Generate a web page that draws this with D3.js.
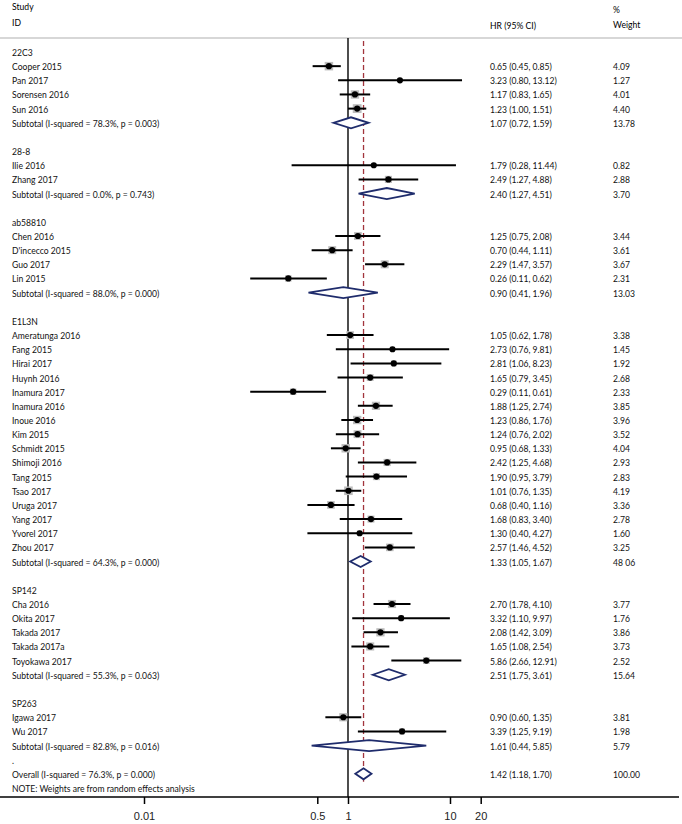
<!DOCTYPE html>
<html>
<head>
<meta charset="utf-8">
<script src="https://cdn.jsdelivr.net/npm/d3@7"></script>
<style>
  html, body { margin: 0; padding: 0; background: #fff; }
  svg { display: block; }
</style>
</head>
<body>
<svg id="chart" width="682" height="824"></svg>
<script>
// ---------- data ----------
const rowLabels = [
  "22C3", "Cooper 2015", "Pan 2017", "Sorensen 2016", "Sun 2016", "Subtotal (I-squared = 78.3%, p = 0.003)", "",
  "28-8", "Ilie 2016", "Zhang 2017", "Subtotal (I-squared = 0.0%, p = 0.743)", "",
  "ab58810", "Chen 2016", "D'incecco 2015", "Guo 2017", "Lin 2015", "Subtotal (I-squared = 88.0%, p = 0.000)", "",
  "E1L3N", "Ameratunga 2016", "Fang 2015", "Hirai 2017", "Huynh 2016", "Inamura 2017", "Inamura 2016", "Inoue 2016",
  "Kim 2015", "Schmidt 2015", "Shimoji 2016", "Tang 2015", "Tsao 2017", "Uruga 2017", "Yang 2017", "Yvorel 2017",
  "Zhou 2017", "Subtotal (I-squared = 64.3%, p = 0.000)", "",
  "SP142", "Cha 2016", "Okita 2017", "Takada 2017", "Takada 2017a", "Toyokawa 2017", "Subtotal (I-squared = 55.3%, p = 0.063)", "",
  "SP263", "Igawa 2017", "Wu 2017", "Subtotal (I-squared = 82.8%, p = 0.016)", ".",
  "Overall (I-squared = 76.3%, p = 0.000)", "NOTE: Weights are from random effects analysis"
];
// g = group header, s = study, d = pooled diamond, b = blank, n = note
const rowKinds = [
  "g","s","s","s","s","d","b",
  "g","s","s","d","b",
  "g","s","s","s","s","d","b",
  "g","s","s","s","s","s","s","s","s","s","s","s","s","s","s","s","s","d","b",
  "g","s","s","s","s","s","d","b",
  "g","s","s","d","b",
  "d","n"
];
const hrValues = [
  null, 0.65, 3.23, 1.17, 1.23, 1.07, null,
  null, 1.79, 2.49, 2.40, null,
  null, 1.25, 0.70, 2.29, 0.26, 0.90, null,
  null, 1.05, 2.73, 2.81, 1.65, 0.29, 1.88, 1.23, 1.24, 0.95, 2.42, 1.90, 1.01, 0.68, 1.68, 1.30, 2.57, 1.33, null,
  null, 2.70, 3.32, 2.08, 1.65, 5.86, 2.51, null,
  null, 0.90, 3.39, 1.61, null,
  1.42, null
];
const ciLow = [
  null, 0.45, 0.80, 0.83, 1.00, 0.72, null,
  null, 0.28, 1.27, 1.27, null,
  null, 0.75, 0.44, 1.47, 0.11, 0.41, null,
  null, 0.62, 0.76, 1.06, 0.79, 0.11, 1.25, 0.86, 0.76, 0.68, 1.25, 0.95, 0.76, 0.40, 0.83, 0.40, 1.46, 1.05, null,
  null, 1.78, 1.10, 1.42, 1.08, 2.66, 1.75, null,
  null, 0.60, 1.25, 0.44, null,
  1.18, null
];
const ciHigh = [
  null, 0.85, 13.12, 1.65, 1.51, 1.59, null,
  null, 11.44, 4.88, 4.51, null,
  null, 2.08, 1.11, 3.57, 0.62, 1.96, null,
  null, 1.78, 9.81, 8.23, 3.45, 0.61, 2.74, 1.76, 2.02, 1.33, 4.68, 3.79, 1.35, 1.16, 3.40, 4.27, 4.52, 1.67, null,
  null, 4.10, 9.97, 3.09, 2.54, 12.91, 3.61, null,
  null, 1.35, 9.19, 5.85, null,
  1.70, null
];
const weightLabels = [
  "", "4.09", "1.27", "4.01", "4.40", "13.78", "",
  "", "0.82", "2.88", "3.70", "",
  "", "3.44", "3.61", "3.67", "2.31", "13.03", "",
  "", "3.38", "1.45", "1.92", "2.68", "2.33", "3.85", "3.96", "3.52", "4.04", "2.93", "2.83", "4.19", "3.36", "2.78", "1.60", "3.25", "48 06", "",
  "", "3.77", "1.76", "3.86", "3.73", "2.52", "15.64", "",
  "", "3.81", "1.98", "5.79", "",
  "100.00", ""
];
const overallHR = 1.42;
const tickValues = [0.01, 0.5, 1, 10, 20];
const tickLabels = ["0.01", "0.5", "1", "10", "20"];
const headerLeft = ["Study", "ID"];
const headerHR = "HR (95% CI)";
const headerWeight = ["%", "Weight"];

// ---------- layout ----------
const svg = d3.select("#chart");
const LABEL_FONT = "Lato, 'Open Sans', sans-serif";
const FS = 8.6;
const x = d3.scaleLog().domain([0.01, 20]).range([144, 480.7]);
const y = d3.scaleLinear().domain([0, rowLabels.length - 1]).range([53, 789]);
const axisY = 797;
const headLineY = 38;
const xLabel = 12, xHR = 490, xW = 613;
const fmt = d3.format(".2f");

// header
svg.append("text").attr("x", xLabel).attr("y", 10).attr("font-family", LABEL_FONT).attr("font-size", FS).text(headerLeft[0]);
svg.append("text").attr("x", xLabel).attr("y", 26).attr("font-family", LABEL_FONT).attr("font-size", FS).text(headerLeft[1]);
svg.append("text").attr("x", xHR).attr("y", 29).attr("font-family", LABEL_FONT).attr("font-size", FS).text(headerHR);
svg.append("text").attr("x", xW).attr("y", 13).attr("font-family", LABEL_FONT).attr("font-size", FS).text(headerWeight[0]);
svg.append("text").attr("x", xW).attr("y", 28).attr("font-family", LABEL_FONT).attr("font-size", FS).text(headerWeight[1]);
svg.append("line").attr("x1", 0).attr("x2", 682).attr("y1", headLineY).attr("y2", headLineY)
  .attr("stroke", "#b0b0b0").attr("stroke-width", 1.2);

// null line at 1
svg.append("line").attr("x1", x(1)).attr("x2", x(1)).attr("y1", headLineY).attr("y2", axisY)
  .attr("stroke", "#000").attr("stroke-width", 1.4);

// overall dashed line
svg.append("line").attr("x1", x(overallHR)).attr("x2", x(overallHR))
  .attr("y1", headLineY + 3).attr("y2", y(rowLabels.length - 2) + 7)
  .attr("stroke", "#a2343c").attr("stroke-width", 1.3).attr("stroke-dasharray", "5,3");

const rows = rowLabels.map((label, i) => ({
  i, label, kind: rowKinds[i], hr: hrValues[i], lo: ciLow[i], hi: ciHigh[i], w: weightLabels[i]
}));

// labels
svg.append("g").selectAll("text").data(rows.filter(r => r.label !== "")).join("text")
  .attr("x", xLabel).attr("y", r => y(r.i) + 3)
  .attr("font-family", LABEL_FONT).attr("font-size", FS).attr("fill", "#111")
  .text(r => r.label);

// HR text & weights
const est = rows.filter(r => r.hr != null);
svg.append("g").selectAll("text").data(est).join("text")
  .attr("x", xHR).attr("y", r => y(r.i) + 3)
  .attr("font-family", LABEL_FONT).attr("font-size", FS).attr("fill", "#111")
  .text(r => `${fmt(r.hr)} (${fmt(r.lo)}, ${fmt(r.hi)})`);
svg.append("g").selectAll("text").data(est).join("text")
  .attr("x", xW).attr("y", r => y(r.i) + 3)
  .attr("font-family", LABEL_FONT).attr("font-size", FS).attr("fill", "#111")
  .text(r => r.w);

// studies
const studies = rows.filter(r => r.kind === "s");
const sg = svg.append("g");
sg.selectAll("rect.wt").data(studies).join("rect").attr("class", "wt")
  .attr("x", r => x(r.hr) - 2.1 * Math.sqrt(+r.w))
  .attr("y", r => y(r.i) - 1 - 2.1 * Math.sqrt(+r.w))
  .attr("width", r => 4.2 * Math.sqrt(+r.w))
  .attr("height", r => 4.2 * Math.sqrt(+r.w))
  .attr("fill", "#bdbdbd");
sg.selectAll("line.ci").data(studies).join("line").attr("class", "ci")
  .attr("x1", r => x(r.lo)).attr("x2", r => x(r.hi))
  .attr("y1", r => y(r.i) - 1).attr("y2", r => y(r.i) - 1)
  .attr("stroke", "#000").attr("stroke-width", 2);
sg.selectAll("circle.pt").data(studies).join("circle").attr("class", "pt")
  .attr("cx", r => x(r.hr)).attr("cy", r => y(r.i) - 1).attr("r", 3.1)
  .attr("fill", "#000");

// pooled diamonds
const pooled = rows.filter(r => r.kind === "d");
svg.append("g").selectAll("path").data(pooled).join("path")
  .attr("d", r => {
    const cy = y(r.i) - 1, h = 5.5;
    return `M${x(r.lo)},${cy}L${x(r.hr)},${cy - h}L${x(r.hi)},${cy}L${x(r.hr)},${cy + h}Z`;
  })
  .attr("fill", "#fff").attr("stroke", "#1f2c6c").attr("stroke-width", 1.8);

// axis
svg.append("line").attr("x1", 0).attr("x2", 679).attr("y1", axisY).attr("y2", axisY)
  .attr("stroke", "#000").attr("stroke-width", 1.5);
const axis = d3.axisBottom(x).tickValues(tickValues)
  .tickFormat((d, i) => tickLabels[i]).tickSize(7).tickPadding(8);
const ag = svg.append("g").attr("transform", `translate(0,${axisY})`).call(axis);
ag.select(".domain").remove();
ag.selectAll(".tick line").attr("stroke", "#000").attr("stroke-width", 1.5);
ag.selectAll(".tick text").attr("font-family", "'Liberation Sans', Arial, sans-serif")
  .attr("font-size", 11).attr("fill", "#222");
</script>
</body>
</html>
